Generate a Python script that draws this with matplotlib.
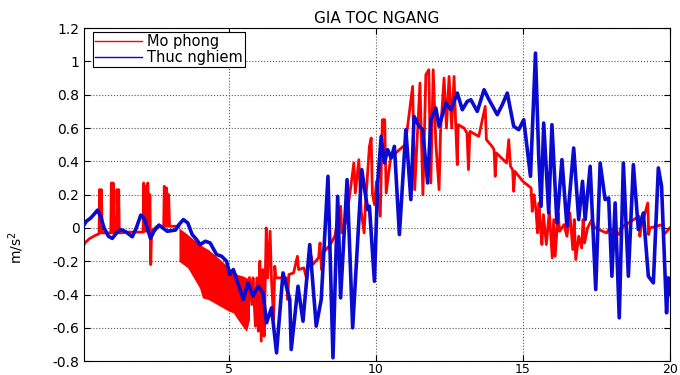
import numpy as np
import matplotlib
matplotlib.use('Agg')
import matplotlib.pyplot as plt

# Mo phong (simulation)
red_t = [0.02, 0.1, 0.25, 0.45, 0.58, 0.6, 0.62, 0.66, 0.69, 0.85, 0.98, 1.0, 1.03, 1.06, 1.09,
         1.17, 1.19, 1.22, 1.25, 1.27, 1.6, 2.08, 2.1, 2.13, 2.17, 2.2, 2.24, 2.28, 2.31, 2.34,
         2.37, 2.55, 2.78, 2.8, 2.84, 2.88, 2.92, 2.95, 2.98, 3.3]
red_v = [-0.12, -0.09, -0.065, -0.045, -0.035, 0.23, -0.03, 0.23, -0.03, -0.03, -0.03, 0.27, -0.03, 0.27, -0.03,
         -0.03, 0.23, -0.03, 0.23, -0.03, -0.025, -0.025, 0.27, -0.02, 0.25, -0.02, 0.27, -0.02, 0.2, -0.22,
         -0.02, 0.01, 0.01, 0.25, 0.01, 0.24, 0.01, 0.2, 0.01, 0.01]

# dense oscillation band of the simulation (3.3 .. 5.7 s)
band_t = [3.3, 3.45, 3.6, 3.8, 4.0, 4.1, 4.3, 4.5, 4.7, 5.0, 5.15, 5.3, 5.5, 5.6, 5.7]
band_hi = [0.0, -0.02, -0.04, -0.07, -0.09, -0.11, -0.13, -0.16, -0.19, -0.24, -0.26, -0.28, -0.29, -0.3, -0.3]
band_lo = [-0.2, -0.22, -0.24, -0.3, -0.36, -0.42, -0.43, -0.45, -0.47, -0.5, -0.51, -0.55, -0.6, -0.62, -0.55]

red2_t = [5.7, 5.78, 5.82, 5.9, 5.95, 6.0, 6.05, 6.1, 6.15, 6.2, 6.27, 6.32, 6.4, 6.45, 6.52, 6.56,
          6.6, 6.8, 6.95, 7.0, 7.04, 7.2, 7.33, 7.37, 7.55, 7.65, 7.7, 7.8, 7.85, 8.05, 8.1, 8.15,
          8.2, 8.45, 8.6, 8.8, 8.84, 9.0, 9.25, 9.3, 9.42, 9.5, 9.6, 9.65, 9.78, 9.84, 9.88, 9.95,
          10.02, 10.15, 10.22, 10.3, 10.35, 10.5, 10.8, 11.0, 11.25, 11.32, 11.5, 11.6, 11.7, 11.8,
          11.87, 11.95, 12.04, 12.15, 12.2, 12.32, 12.4, 12.49, 12.58, 12.66, 12.72, 12.77, 12.8,
          13.0, 13.1, 13.15, 13.2, 13.5, 13.72, 13.76, 13.95, 14.02, 14.06, 14.1, 14.45, 14.52,
          14.58, 14.65, 14.69, 14.73, 15.0, 15.28, 15.32, 15.38, 15.45, 15.5, 15.55, 15.6, 15.65,
          15.7, 15.8, 15.9, 16.0, 16.05, 16.1, 16.2, 16.25, 16.4, 16.5, 16.6, 16.7, 16.75, 16.8,
          16.9, 17.0, 17.05, 17.1, 17.2, 17.35, 17.45, 17.85, 17.95, 18.28, 18.33, 18.95, 18.98,
          19.02, 19.25, 19.28, 19.32, 19.75, 19.8, 20.0]
red2_v = [-0.3, -0.46, -0.3, -0.59, -0.3, -0.62, -0.2, -0.68, -0.25, -0.65, 0.0, -0.3, -0.02, -0.32, -0.55, -0.23,
          -0.3, -0.3, -0.3, -0.43, -0.28, -0.27, -0.17, -0.25, -0.24, -0.31, -0.22, -0.17, -0.22, -0.18, -0.09, -0.25,
          -0.15, -0.1, -0.05, 0.13, -0.03, 0.05, 0.39, 0.21, 0.41, 0.1, -0.03, 0.15, 0.49, 0.54, 0.21, 0.14,
          0.28, 0.07, 0.65, 0.65, 0.21, 0.42, 0.47, 0.5, 0.85, 0.23, 0.87, 0.2, 0.92, 0.95,
          0.27, 0.95, 0.51, 0.23, 0.58, 0.9, 0.6, 0.91, 0.6, 0.91, 0.6, 0.38, 0.62,
          0.6, 0.57, 0.35, 0.58, 0.55, 0.73, 0.53, 0.49, 0.47, 0.31, 0.45, 0.39, 0.53,
          0.37, 0.35, 0.22, 0.34, 0.28, 0.24, 0.1, 0.2, 0.1, -0.03, 0.15, 0.0, -0.1,
          0.08, -0.1, 0.1, -0.18, 0.05, -0.17, 0.09, -0.02, 0.02, -0.05, 0.09, -0.13, 0.05, -0.19,
          -0.05, -0.12, 0.05, -0.09, 0.0, 0.05, 0.0, -0.03, 0.0, -0.04, 0.0, 0.07, -0.05,
          0.0, 0.15, -0.04, 0.0, 0.02, -0.04, 0.0]

# Thuc nghiem (measurement)
blue_t = [0.0, 0.15, 0.3, 0.45, 0.53, 0.64, 0.75, 0.9, 1.03, 1.18, 1.32, 1.49, 1.71, 1.85, 2.0, 2.1,
          2.16, 2.33, 2.45, 2.62, 2.9, 3.18, 3.3, 3.45, 3.6, 3.75, 3.9, 4.02, 4.2, 4.36, 4.58, 4.75,
          4.92, 5.03, 5.15, 5.32, 5.49, 5.65, 5.82, 5.99, 6.16, 6.28, 6.45, 6.62, 6.84, 7.07, 7.12,
          7.35, 7.52, 7.75, 7.97, 8.14, 8.37, 8.54, 8.7, 8.8, 9.02, 9.21, 9.52, 9.72, 9.78, 9.95,
          10.06, 10.18, 10.29, 10.4, 10.52, 10.63, 10.8, 11.02, 11.19, 11.3, 11.47, 11.59, 11.76,
          11.87, 12.04, 12.15, 12.38, 12.55, 12.77, 12.94, 13.11, 13.23, 13.45, 13.68, 13.85, 14.13,
          14.3, 14.47, 14.69, 14.86, 15.03, 15.26, 15.43, 15.54, 15.62, 15.71, 15.88, 15.99, 16.16,
          16.33, 16.5, 16.73, 16.9, 17.03, 17.12, 17.29, 17.48, 17.63, 17.8, 17.92, 18.03, 18.14,
          18.28, 18.42, 18.59, 18.76, 18.93, 19.1, 19.27, 19.44, 19.61, 19.72, 19.89, 19.95, 20.0]
blue_v = [0.0, 0.04, 0.06, 0.09, 0.107, 0.067, 0.0, -0.05, -0.063, -0.03, -0.01, -0.023, -0.053, 0.0, 0.077, 0.06,
          0.037, -0.063, -0.02, 0.017, -0.02, -0.013, 0.02, 0.05, 0.03, -0.04, -0.07, -0.1, -0.08, -0.09, -0.16, -0.17,
          -0.2, -0.28, -0.25, -0.34, -0.43, -0.33, -0.41, -0.35, -0.39, -0.57, -0.48, -0.75, -0.27, -0.43, -0.73,
          -0.35, -0.56, -0.1, -0.59, -0.43, 0.31, -0.78, 0.19, -0.42, 0.29, -0.6, 0.35, 0.11, 0.13, -0.32,
          0.27, 0.55, 0.39, 0.47, 0.42, 0.49, -0.04, 0.59, 0.17, 0.67, 0.61, 0.59, 0.27,
          0.65, 0.72, 0.61, 0.75, 0.71, 0.81, 0.71, 0.76, 0.77, 0.70, 0.83, 0.77, 0.68,
          0.74, 0.81, 0.61, 0.59, 0.65, 0.31, 1.05, 0.43, 0.13, 0.63, 0.09, 0.62, 0.03,
          0.41, 0.01, 0.48, 0.05, 0.28, 0.05, 0.37, -0.37, 0.39, 0.17, 0.18, -0.29, 0.15,
          -0.54, 0.39, -0.29, 0.38, -0.01, 0.09, -0.29, -0.33, 0.36, 0.25, -0.51, -0.3, -0.4]

yticks = [-0.8, -0.6, -0.4, -0.2, 0, 0.2, 0.4, 0.6, 0.8, 1, 1.2]
ylabels = ['-0.8', '-0.6', '-0.4', '-0.2', '0', '0.2', '0.4', '0.6', '0.8', '1', '1.2']
xticks = [5, 10, 15, 20]

plt.rcParams['font.family'] = ['DejaVu Sans']
fig = plt.figure(figsize=(6.8, 3.75), dpi=100)
ax = fig.add_axes([0.124, 0.037, 0.861, 0.888])

red = '#ff0000'
blue = '#0a0ad0'
ax.plot(red_t, red_v, color=red, lw=2.0, label='Mo phong', zorder=2)
ax.fill_between(band_t, band_lo, band_hi, color=red, lw=0, zorder=2)
ax.plot(red2_t, red2_v, color=red, lw=2.0, zorder=2)
ax.plot(blue_t, blue_v, color=blue, lw=2.6, label='Thuc nghiem', zorder=3)

ax.set_xlim(0.08, 20)
ax.set_ylim(-0.8, 1.2)
ax.set_xticks(xticks)
ax.set_yticks(yticks)
ax.set_yticklabels(ylabels)
ax.grid(True, linestyle=':', color='#555555', lw=0.8)
ax.tick_params(direction='in', top=True, right=True, labelsize=10, length=4)
ax.tick_params(axis='x', pad=1, labelsize=9)
for s in ax.spines.values():
    s.set_linewidth(0.8)

ax.set_title('GIA TOC NGANG', fontsize=11, pad=4)
ax.set_ylabel('m/s$^2$', fontsize=10)
ax.yaxis.set_label_coords(-0.1, 0.34)

leg = ax.legend(loc='upper left', bbox_to_anchor=(0.015, 0.988), fontsize=10.5, fancybox=False,
                framealpha=1, edgecolor='black', borderpad=0.15, labelspacing=0.05,
                handlelength=3.2, handletextpad=0.35, borderaxespad=0)
for line in leg.get_lines():
    line.set_linewidth(1.0)
leg.get_frame().set_linewidth(0.8)

fig.savefig('out.png', dpi=100)
